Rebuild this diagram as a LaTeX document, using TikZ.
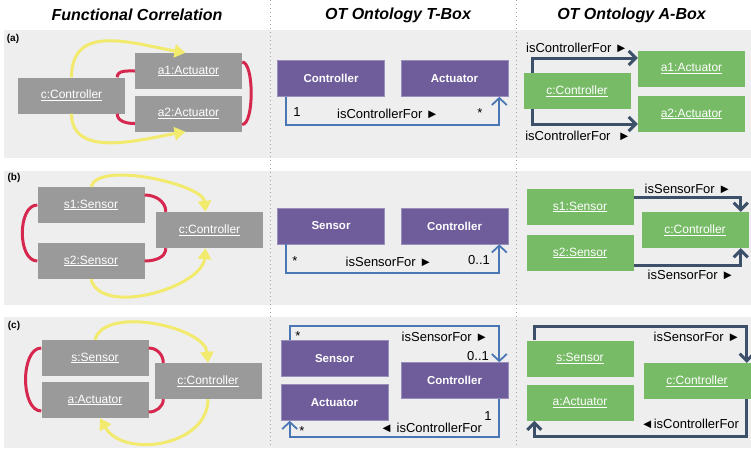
\documentclass[tikz,border=0pt]{standalone}
\usepackage{fontspec}
\setmainfont{Liberation Sans}
\usetikzlibrary{arrows.meta, positioning}
\definecolor{panelgray}{HTML}{EEEEEE}
\definecolor{boxgray}{HTML}{9A9A9A}
\definecolor{tboxpurple}{HTML}{6E5C9B}
\definecolor{aboxgreen}{HTML}{77BB66}
\definecolor{corrred}{HTML}{D6284F}
\definecolor{corryellow}{HTML}{F2EA6C}
\definecolor{umlblue}{HTML}{4A77B4}
\definecolor{linkslate}{HTML}{3C5169}

\begin{document}
\begin{tikzpicture}[x=1pt,y=-1pt,on grid,
fbox/.style={rectangle,fill=boxgray,text=white,minimum width=107pt,minimum height=36pt,inner sep=0pt,font=\fontsize{12}{14}\selectfont},
tbox/.style={fbox,fill=tboxpurple,draw=tboxpurple!70!white,line width=0.6pt,font=\fontsize{11.5}{14}\selectfont\bfseries},
abox/.style={fbox,fill=aboxgreen},
lbl/.style={inner sep=0pt,text height=9.3pt,text depth=0pt,font=\fontsize{13}{15}\selectfont},
hdr/.style={font=\fontsize{16}{19}\selectfont\bfseries\itshape},
tag/.style={font=\fontsize{10}{12}\selectfont\bfseries}]

\useasboundingbox (0,0) rectangle (751,448);
\fill[panelgray] (4,30) rectangle (751,158);
\fill[panelgray] (4,171) rectangle (751,305);
\fill[panelgray] (4,317) rectangle (751,448);
\draw[black!35,line width=1pt,dash pattern=on 1pt off 3pt] (270,0) -- (270,448);
\draw[black!35,line width=1pt,dash pattern=on 1pt off 3pt] (516,0) -- (516,448);

\node[hdr] (H1) at (137,15) {Functional Correlation};
\node[hdr] (H2) at (398,15) {OT Ontology T-Box};
\node[hdr] (H3) at (631.5,15) {OT Ontology A-Box};

\tikzset{flow/.style={corryellow,line width=3pt,-{Triangle[length=11pt,width=13pt]}}}
\tikzset{corr/.style={corrred,line width=3pt}}
\tikzset{uml/.style={umlblue,line width=1.8pt,-{Straight Barb[length=7pt,width=15pt]}}}
\tikzset{link/.style={linkslate,line width=3pt,-{Straight Barb[length=7pt,width=14pt]}}}

% (a)
\node[tag] (La) at (13,39) {(a)};
\node[fbox] (Fca) at (71.5,95.5) {\underline{c:Controller}};
\node[fbox] (Fa1) at (188.5,71) {\underline{a1:Actuator}};
\node[fbox] (Fa2) [below=42.5pt of Fa1] {\underline{a2:Actuator}};
\path (Fca.north) edge [flow,out=90,in=170,looseness=1.2] ([xshift=-3pt]Fa1.north);
\path (Fca.south) edge [flow,out=-90,in=190] ([xshift=-3pt]Fa2.south);
\draw[corr] ([xshift=-8pt]Fca.north east) to[out=90,in=180] (Fa1.west);
\draw[corr] ([xshift=-8pt]Fca.south east) to[out=-90,in=180] ([yshift=-10pt]Fa2.west);
\draw[corr] ([yshift=9pt]Fa1.east) .. controls +(12,0) and +(12,0) .. ([yshift=-11pt]Fa2.east);

\node[tbox] (Tca) at (331,78.5) {Controller};
\node[tbox] (Taa) [right=123.5pt of Tca] {Actuator};
\draw[uml] ([xshift=9pt]Tca.south west) -- ++(0,28) -| ([xshift=-9pt]Taa.south east);
\node[lbl] (Ma1) at (297,112) {1};
\node[lbl] (Ra) at (388,114) {isControllerFor ►};
\node[lbl] (Ma2) at (480,113) {*};

\node[abox] (Aca) at (577,91) {\underline{c:Controller}};
\node[abox] (Aa1) at (691.5,68.5) {\underline{a1:Actuator}};
\node[abox] (Aa2) [below=45.5pt of Aa1] {\underline{a2:Actuator}};
\draw[link] ([xshift=9pt]Aca.north west) |- ([yshift=10.5pt]Aa1.west);
\draw[link] ([xshift=9pt]Aca.south west) |- ([yshift=-10pt]Aa2.west);
\node[lbl] (Ra1) at (577,48) {isControllerFor ►};
\node[lbl] (Ra2) at (578,136) {isControllerFor\ \ ►};

% (b)
\node[tag] (Lb) at (14,178) {(b)};
\node[fbox] (Fs1) at (91,205) {\underline{s1:Sensor}};
\node[fbox] (Fs2) [below=56pt of Fs1] {\underline{s2:Sensor}};
\node[fbox] (Fcb) at (209.5,230) {\underline{c:Controller}};
\path (Fs1.north) edge [flow,out=75,in=95,looseness=0.6] ([xshift=-4pt]Fcb.north);
\path (Fs2.south) edge [flow,out=-75,in=-95,looseness=0.85] ([xshift=-4pt]Fcb.south);
\draw[corr] (Fs1.west) .. controls +(-20,0) and +(-20,0) .. (Fs2.west);
\draw[corr] ([yshift=10pt]Fs1.east) to[out=0,in=90] ([xshift=10pt]Fcb.north west);
\draw[corr] (Fs2.east) to[out=0,in=-90] ([xshift=10pt]Fcb.south west);

\node[tbox] (Tsb) at (331,226) {Sensor};
\node[tbox] (Tcb) [right=123.5pt of Tsb] {Controller};
\draw[uml] ([xshift=9pt]Tsb.south west) -- ++(0,29) -| ([xshift=-9pt]Tcb.south east);
\node[lbl] (Mb1) at (295,261) {*};
\node[lbl] (Rb) at (389,262) {isSensorFor ►};
\node[lbl] (Mb2) at (479,260) {0..1};

\node[abox] (As1) at (580,207) {\underline{s1:Sensor}};
\node[abox] (As2) [below=46pt of As1] {\underline{s2:Sensor}};
\node[abox] (Acb) at (695,230) {\underline{c:Controller}};
\draw[link] ([yshift=10pt]As1.east) -| ([xshift=-8pt]Acb.north east);
\draw[link] ([yshift=-12pt]As2.east) -| ([xshift=-8pt]Acb.south east);
\node[lbl] (Rb1) at (688,189) {isSensorFor ►};
\node[lbl] (Rb2) at (691,275) {isSensorFor ►};

% (c)
\node[tag] (Lc) at (14,326) {(c)};
\node[fbox] (Fsc) at (95,358) {\underline{s:Sensor}};
\node[fbox] (Fac) [below=42pt of Fsc] {\underline{a:Actuator}};
\node[fbox] (Fcc) at (208,381) {\underline{c:Controller}};
\path (Fsc.north) edge [flow,out=75,in=95,looseness=0.8] (Fcc.north);
\path (Fcc.south) edge [flow,out=-90,in=-60,looseness=1.1] ([xshift=5pt]Fac.south);
\draw[corr] ([yshift=10pt]Fsc.west) .. controls +(-21,0) and +(-21,0) .. ([yshift=-11pt]Fac.west);
\draw[corr] ([yshift=10pt]Fsc.east) to[out=0,in=90] ([xshift=9pt]Fcc.north west);
\draw[corr] ([yshift=-12pt]Fac.east) to[out=0,in=-90] ([xshift=9pt]Fcc.south west);

\node[tbox] (Tsc) at (334.5,358.5) {Sensor};
\node[tbox] (Tac) [below=44pt of Tsc] {Actuator};
\node[tbox] (Tcc) at (454.5,380.5) {Controller};
\draw[uml] ([xshift=9pt]Tsc.north west) -- ++(0,-14) -| ([xshift=-9pt]Tcc.north east);
\draw[uml] ([xshift=-9pt]Tcc.south east) -- ++(0,38) -| ([xshift=9pt]Tac.south west);
\node[lbl] (Mc1) at (298,336) {*};
\node[lbl] (Rc1) at (445,337) {isSensorFor ►};
\node[lbl] (Mc2) at (478,356) {0..1};
\node[lbl] (Mc3) at (488,416) {1};
\node[lbl] (Rc2) at (431,428) {◄ isControllerFor};
\node[lbl] (Mc4) at (302,431) {*};

\node[abox] (Asc) at (580,358.5) {\underline{s:Sensor}};
\node[abox] (Aac) [below=44pt of Asc] {\underline{a:Actuator}};
\node[abox] (Acc) at (697,381) {\underline{c:Controller}};
\draw[link] ([xshift=8pt]Asc.north west) -- ++(0,-14) -| ([xshift=-4pt]Acc.north east);
\draw[link] ([xshift=-4pt]Acc.south east) -- ++(0,37) -| ([xshift=8pt]Aac.south west);
\node[lbl] (Rc3) at (697,337) {isSensorFor ►};
\node[lbl] (Rc4) at (690,424) {◄isControllerFor};

\end{tikzpicture}
\end{document}
